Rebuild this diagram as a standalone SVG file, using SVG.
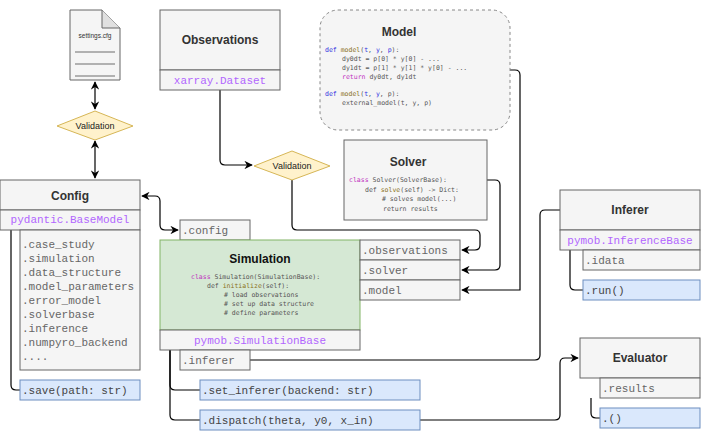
<svg xmlns="http://www.w3.org/2000/svg" width="702" height="431" viewBox="0 0 702 431">
<defs>
<marker id="a" viewBox="0 0 10 10" refX="9" refY="5" markerWidth="7" markerHeight="7" orient="auto-start-reverse"><path d="M0,0 L10,5 L0,10 L3,5 Z" fill="#000"/></marker>
<style>
.b{fill:#f5f5f5;stroke:#666;stroke-width:1}
.bl{fill:#dae8fc;stroke:#6c8ebf;stroke-width:1}
.t{font-family:"Liberation Sans",sans-serif;font-weight:bold;font-size:12px;fill:#333;text-anchor:middle}
.m{font-family:"Liberation Mono",monospace;font-size:11px;fill:#666}
.p{font-family:"Liberation Mono",monospace;font-size:11px;fill:#b266ff;text-anchor:middle}
.c{font-family:"DejaVu Sans Mono",monospace;font-size:6.5px;fill:#555}
.k{fill:#c030c0}.d{fill:#3030e0}.f{fill:#8a7020}
.v{fill:#fff2cc;stroke:#d6b656}
.vt{font-family:"Liberation Sans",sans-serif;font-size:9px;fill:#222;text-anchor:middle}
.l{fill:none;stroke:#000;stroke-width:1.2}
</style>
</defs>
<g id="connectors">
<path class="l" d="M95,82 V109" marker-start="url(#a)" marker-end="url(#a)"/>
<path class="l" d="M95,141 V178" marker-start="url(#a)" marker-end="url(#a)"/>
<path class="l" d="M142,196 H155 Q160,196 160,201 V225 Q160,230 165,230 H178" marker-start="url(#a)" marker-end="url(#a)"/>
<path class="l" d="M220,90 V160 Q220,165 225,165 H252" marker-end="url(#a)"/>
<path class="l" d="M292,180 V225 Q292,230 297,230 H475 Q480,230 480,235 V245 Q480,250 475,250 H462" marker-end="url(#a)"/>
<path class="l" d="M487,180 H495 Q500,180 500,185 V265 Q500,270 495,270 H462" marker-end="url(#a)"/>
<path class="l" d="M510,70 H515 Q520,70 520,75 V290 H462" marker-end="url(#a)"/>
<path class="l" d="M250,360 H535 Q540,360 540,355 V215 Q540,210 545,210 H560"/>
<path class="l" d="M420,420 H555 Q560,420 560,415 V363 Q560,358 565,358 H578" marker-end="url(#a)"/>
<path class="l" d="M170,350 V385 Q170,390 175,390 H200"/>
<path class="l" d="M170,350 V415 Q170,420 175,420 H200"/>
<path class="l" d="M11,230 V385 Q11,390 16,390 H20"/>
<path class="l" d="M570,250 V285 Q570,290 575,290 H583"/>
<path class="l" d="M591,398 V413 Q591,418 596,418 H600"/>
</g>
<g id="settings">
<path d="M70,10 H102 L120,28 V80 H70 Z" class="b"/>
<path d="M102,10 V28 H120" fill="#e0e0e0" stroke="#666"/>
<text x="95" y="38" style="font-family:'Liberation Sans',sans-serif;font-size:6.5px;fill:#333" text-anchor="middle">settings.cfg</text>
<path d="M75,52 H115 M75,64 H115 M75,76 H115" stroke="#333" stroke-width="0.7"/>
</g>
<g id="validation1"><path class="v" d="M57,126 L95,111 L133,126 L95,140 Z"/><text class="vt" x="95" y="129">Validation</text></g>
<g id="validation2"><path class="v" d="M254,166 L292,151 L330,166 L292,180 Z"/><text class="vt" x="292" y="169">Validation</text></g>
<g id="observations">
<rect class="b" x="160" y="10" width="120" height="60"/><rect class="b" x="160" y="70" width="120" height="20"/>
<text class="t" x="220" y="44">Observations</text><text class="p" x="220" y="84">xarray.Dataset</text>
</g>
<g id="model">
<rect x="320" y="10" width="190" height="120" rx="18" fill="#f5f5f5" stroke="#888" stroke-dasharray="3,3"/>
<text class="t" x="399" y="36">Model</text>
<text class="c" x="325" y="52"><tspan class="d">def</tspan> <tspan class="f">model</tspan>(<tspan class="d">t</tspan>, <tspan class="d">y</tspan>, <tspan class="d">p</tspan>):</text>
<text class="c" x="342" y="61">dy0dt = p[0] * y[0] - ...</text>
<text class="c" x="342" y="70">dy1dt = p[1] * y[1] * y[0] - ...</text>
<text class="c" x="342" y="79"><tspan class="k">return</tspan> dy0dt, dy1dt</text>
<text class="c" x="325" y="96"><tspan class="d">def</tspan> <tspan class="f">model</tspan>(<tspan class="d">t</tspan>, <tspan class="d">y</tspan>, p):</text>
<text class="c" x="342" y="105">external_model(t, y, p)</text>
</g>
<g id="solver">
<rect class="b" x="344" y="140" width="143" height="80"/>
<text class="t" x="408" y="166">Solver</text>
<text class="c" x="349" y="182"><tspan class="k">class</tspan> Solver(SolverBase):</text>
<text class="c" x="365" y="192">def <tspan class="f">solve</tspan>(self) -&gt; Dict:</text>
<text class="c" x="382" y="201"># solves model(...)</text>
<text class="c" x="383" y="211">return results</text>
</g>
<g id="config">
<rect class="b" x="0" y="180" width="140" height="30"/><rect class="b" x="0" y="210" width="140" height="20"/>
<text class="t" x="70" y="200">Config</text><text class="p" x="70" y="223">pydantic.BaseModel</text>
<rect class="b" x="20" y="230" width="120" height="140"/>
<text class="m" x="22" y="248">.case_study</text><text class="m" x="22" y="262">.simulation</text>
<text class="m" x="22" y="276">.data_structure</text><text class="m" x="22" y="290">.model_parameters</text>
<text class="m" x="22" y="304">.error_model</text><text class="m" x="22" y="318">.solverbase</text>
<text class="m" x="22" y="332">.inference</text><text class="m" x="22" y="346">.numpyro_backend</text>
<text class="m" x="22" y="360">....</text>
<rect class="bl" x="20" y="380" width="120" height="20"/><text class="m" x="22" y="394" style="fill:#444">.save(path: str)</text>
</g>
<g id="simulation">
<rect class="b" x="180" y="220" width="70" height="20"/><text class="m" x="182" y="234">.config</text>
<rect x="160" y="240" width="200" height="90" fill="#d5e8d4" stroke="#82b366"/>
<rect class="b" x="160" y="330" width="200" height="20"/>
<text class="t" x="260" y="263" style="fill:#111">Simulation</text>
<text class="c" x="191" y="279"><tspan class="k">class</tspan> Simulation(SimulationBase):</text>
<text class="c" x="207" y="288">def <tspan class="f">initialize</tspan>(self):</text>
<text class="c" x="224" y="297"># load observations</text>
<text class="c" x="224" y="306"># set up data structure</text>
<text class="c" x="224" y="315"># define parameters</text>
<text class="p" x="260" y="344">pymob.SimulationBase</text>
<rect class="b" x="360" y="240" width="100" height="20"/><text class="m" x="362" y="254">.observations</text>
<rect class="b" x="360" y="260" width="100" height="20"/><text class="m" x="362" y="274">.solver</text>
<rect class="b" x="360" y="280" width="100" height="20"/><text class="m" x="362" y="294">.model</text>
<rect class="b" x="180" y="350" width="70" height="20"/><text class="m" x="182" y="364">.inferer</text>
<rect class="bl" x="200" y="380" width="220" height="20"/><text class="m" x="202" y="394" style="fill:#444">.set_inferer(backend: str)</text>
<rect class="bl" x="200" y="410" width="220" height="20"/><text class="m" x="202" y="424" style="fill:#444">.dispatch(theta, y0, x_in)</text>
</g>
<g id="inferer">
<rect class="b" x="560" y="190" width="140" height="40"/><rect class="b" x="560" y="230" width="140" height="20"/>
<text class="t" x="630" y="214">Inferer</text><text class="p" x="630" y="244">pymob.InferenceBase</text>
<rect class="b" x="583" y="250" width="117" height="20"/><text class="m" x="585" y="264">.idata</text>
<rect class="bl" x="583" y="280" width="117" height="20"/><text class="m" x="585" y="294" style="fill:#444">.run()</text>
</g>
<g id="evaluator">
<rect class="b" x="580" y="338" width="120" height="40"/>
<text class="t" x="640" y="362">Evaluator</text>
<rect class="b" x="600" y="378" width="100" height="20"/><text class="m" x="602" y="392">.results</text>
<rect class="bl" x="600" y="408" width="100" height="20"/><text class="m" x="602" y="422" style="fill:#444">.()</text>
</g>
</svg>
